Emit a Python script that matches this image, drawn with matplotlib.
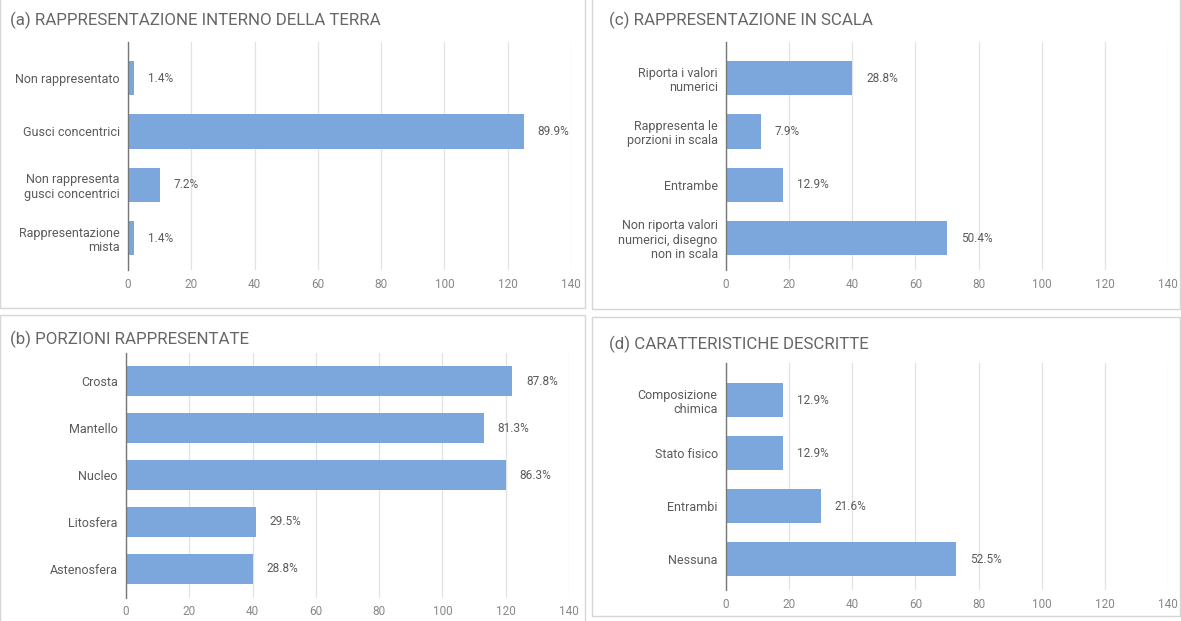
import matplotlib.pyplot as plt
from matplotlib.patches import Rectangle

plt.rcParams['font.family'] = ['Roboto', 'DejaVu Sans']

W, H = 1181, 621

# panel (a)
labels_a = ["Non rappresentato", "Gusci concentrici", "Non rappresenta\ngusci concentrici", "Rappresentazione\nmista"]
counts_a = [2, 125, 10, 2]
pct_a = ["1.4%", "89.9%", "7.2%", "1.4%"]

# panel (b)
labels_b = ["Crosta", "Mantello", "Nucleo", "Litosfera", "Astenosfera"]
counts_b = [122, 113, 120, 41, 40]
pct_b = ["87.8%", "81.3%", "86.3%", "29.5%", "28.8%"]

# panel (c)
labels_c = ["Riporta i valori\nnumerici", "Rappresenta le\nporzioni in scala", "Entrambe", "Non riporta valori\nnumerici, disegno\nnon in scala"]
counts_c = [40, 11, 18, 70]
pct_c = ["28.8%", "7.9%", "12.9%", "50.4%"]

# panel (d)
labels_d = ["Composizione\nchimica", "Stato fisico", "Entrambi", "Nessuna"]
counts_d = [18, 18, 30, 73]
pct_d = ["12.9%", "12.9%", "21.6%", "52.5%"]

xticks = [0, 20, 40, 60, 80, 100, 120, 140]

BAR = '#7ba7dd'
TXT = '#5a5a5a'

fig = plt.figure(figsize=(W / 100, H / 100), dpi=100)


def px_axes(left, right, top, bottom):
    return fig.add_axes([left / W, 1 - bottom / H, (right - left) / W, (bottom - top) / H])


def panel(box, title, title_xy, ax_px, labels, counts, pct, top_off, bot_off, pad):
    x0, y0, x1, y1 = box
    fig.patches.append(Rectangle((x0 / W, 1 - y1 / H), (x1 - x0) / W, (y1 - y0) / H,
                                 transform=fig.transFigure, fill=False,
                                 edgecolor='#d6d6d6', linewidth=1.0))
    fig.text(title_xy[0] / W, 1 - title_xy[1] / H, title, fontsize=12.2,
             color='#666666', va='center', ha='left')
    ax = px_axes(*ax_px)
    n = len(labels)
    y = list(range(n))
    ax.barh(y, counts, height=0.64, color=BAR, zorder=3)
    for yi, c, p in zip(y, counts, pct):
        ax.annotate(p, (c, yi), xytext=(10, 0), textcoords='offset points',
                    va='center', ha='left', fontsize=8.5, color=TXT)
    ax.set_xlim(0, 140)
    ax.set_ylim(n - 1 + bot_off, -top_off)
    ax.set_xticks(xticks)
    ax.set_yticks(y)
    ax.set_yticklabels(labels, fontsize=9, color=TXT, linespacing=1.15)
    ax.tick_params(axis='x', length=0, pad=pad, labelsize=8.5, labelcolor='#888888')
    ax.tick_params(axis='y', length=0, pad=6)
    ax.grid(axis='x', color='#e2e2e2', linewidth=0.9, zorder=0)
    for s in ['top', 'right', 'bottom']:
        ax.spines[s].set_visible(False)
    ax.spines['left'].set_color('#777777')
    ax.spines['left'].set_linewidth(1.0)
    ax.spines['left'].set_zorder(4)
    return ax


panel((0, -5, 585, 308), "(a) RAPPRESENTAZIONE INTERNO DELLA TERRA", (10, 20),
      (128, 571, 42, 270), labels_a, counts_a, pct_a, 0.68, 0.6, 6)
panel((592, -5, 1180, 309), "(c) RAPPRESENTAZIONE IN SCALA", (609, 20),
      (726, 1168, 42, 270), labels_c, counts_c, pct_c, 0.68, 0.6, 6)
panel((0, 315, 585, 630), "(b) PORZIONI RAPPRESENTATE", (10, 339),
      (126, 569, 353, 598), labels_b, counts_b, pct_b, 0.6, 0.62, 5)
panel((592, 317, 1180, 616), "(d) CARATTERISTICHE DESCRITTE", (609, 344),
      (726, 1168, 363, 590), labels_d, counts_d, pct_d, 0.7, 0.58, 6)

fig.savefig('out.png', dpi=100)
